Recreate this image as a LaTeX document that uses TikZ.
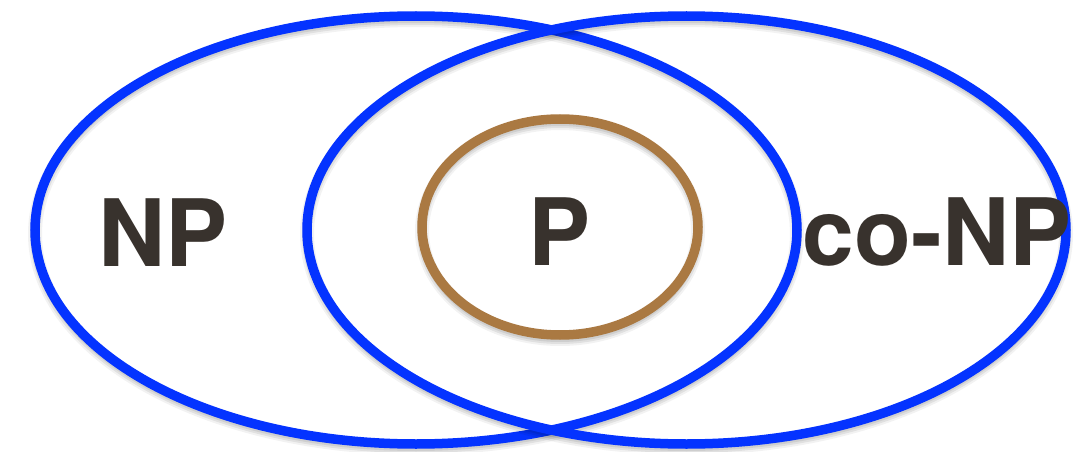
\documentclass[tikz,border=0pt]{standalone}
\usepackage{fontspec}
\setmainfont{TeX Gyre Heros}
\definecolor{setblue}{HTML}{0433FF}
\definecolor{setbrown}{HTML}{AA7942}
\definecolor{labelink}{HTML}{38322D}
\tikzset{
  setline/.style={line width=9.5pt},
  shade1/.style={line width=14pt, draw=black, opacity=0.05},
  shade2/.style={line width=10pt, draw=black, opacity=0.07},
  shade3/.style={line width=6pt, draw=black, opacity=0.08},
  setlabel/.style={font=\fontsize{93}{93}\selectfont\bfseries, text=labelink, anchor=base, inner sep=0pt}
}
\newcommand{\shadowellipse}[3]{%
  \draw[shade1] ([yshift=-4pt]#1) ellipse [x radius=#2, y radius=#3];
  \draw[shade2] ([yshift=-4pt]#1) ellipse [x radius=#2, y radius=#3];
  \draw[shade3] ([yshift=-4pt]#1) ellipse [x radius=#2, y radius=#3];
}
\begin{document}
\begin{tikzpicture}[x=1pt,y=-1pt]
\useasboundingbox[fill=white] (0,0) rectangle (1088,452);
\coordinate (npc) at (416,230);
\coordinate (conpc) at (686.5,230);
\coordinate (pc) at (560,227);
\shadowellipse{npc}{381pt}{214pt}
\draw[setline, draw=setblue] (npc) ellipse [x radius=381pt, y radius=214pt];
\shadowellipse{conpc}{379.5pt}{214pt}
\draw[setline, draw=setblue] (conpc) ellipse [x radius=379.5pt, y radius=214pt];
\shadowellipse{pc}{138pt}{108pt}
\draw[setline, draw=setbrown] (pc) ellipse [x radius=138pt, y radius=108pt];
\node[setlabel] (np) at (163,266) {NP};
\node[setlabel] (p) at (560,265) {P};
\node[setlabel] (conp) at (937,265) {co-NP};
\end{tikzpicture}
\end{document}
